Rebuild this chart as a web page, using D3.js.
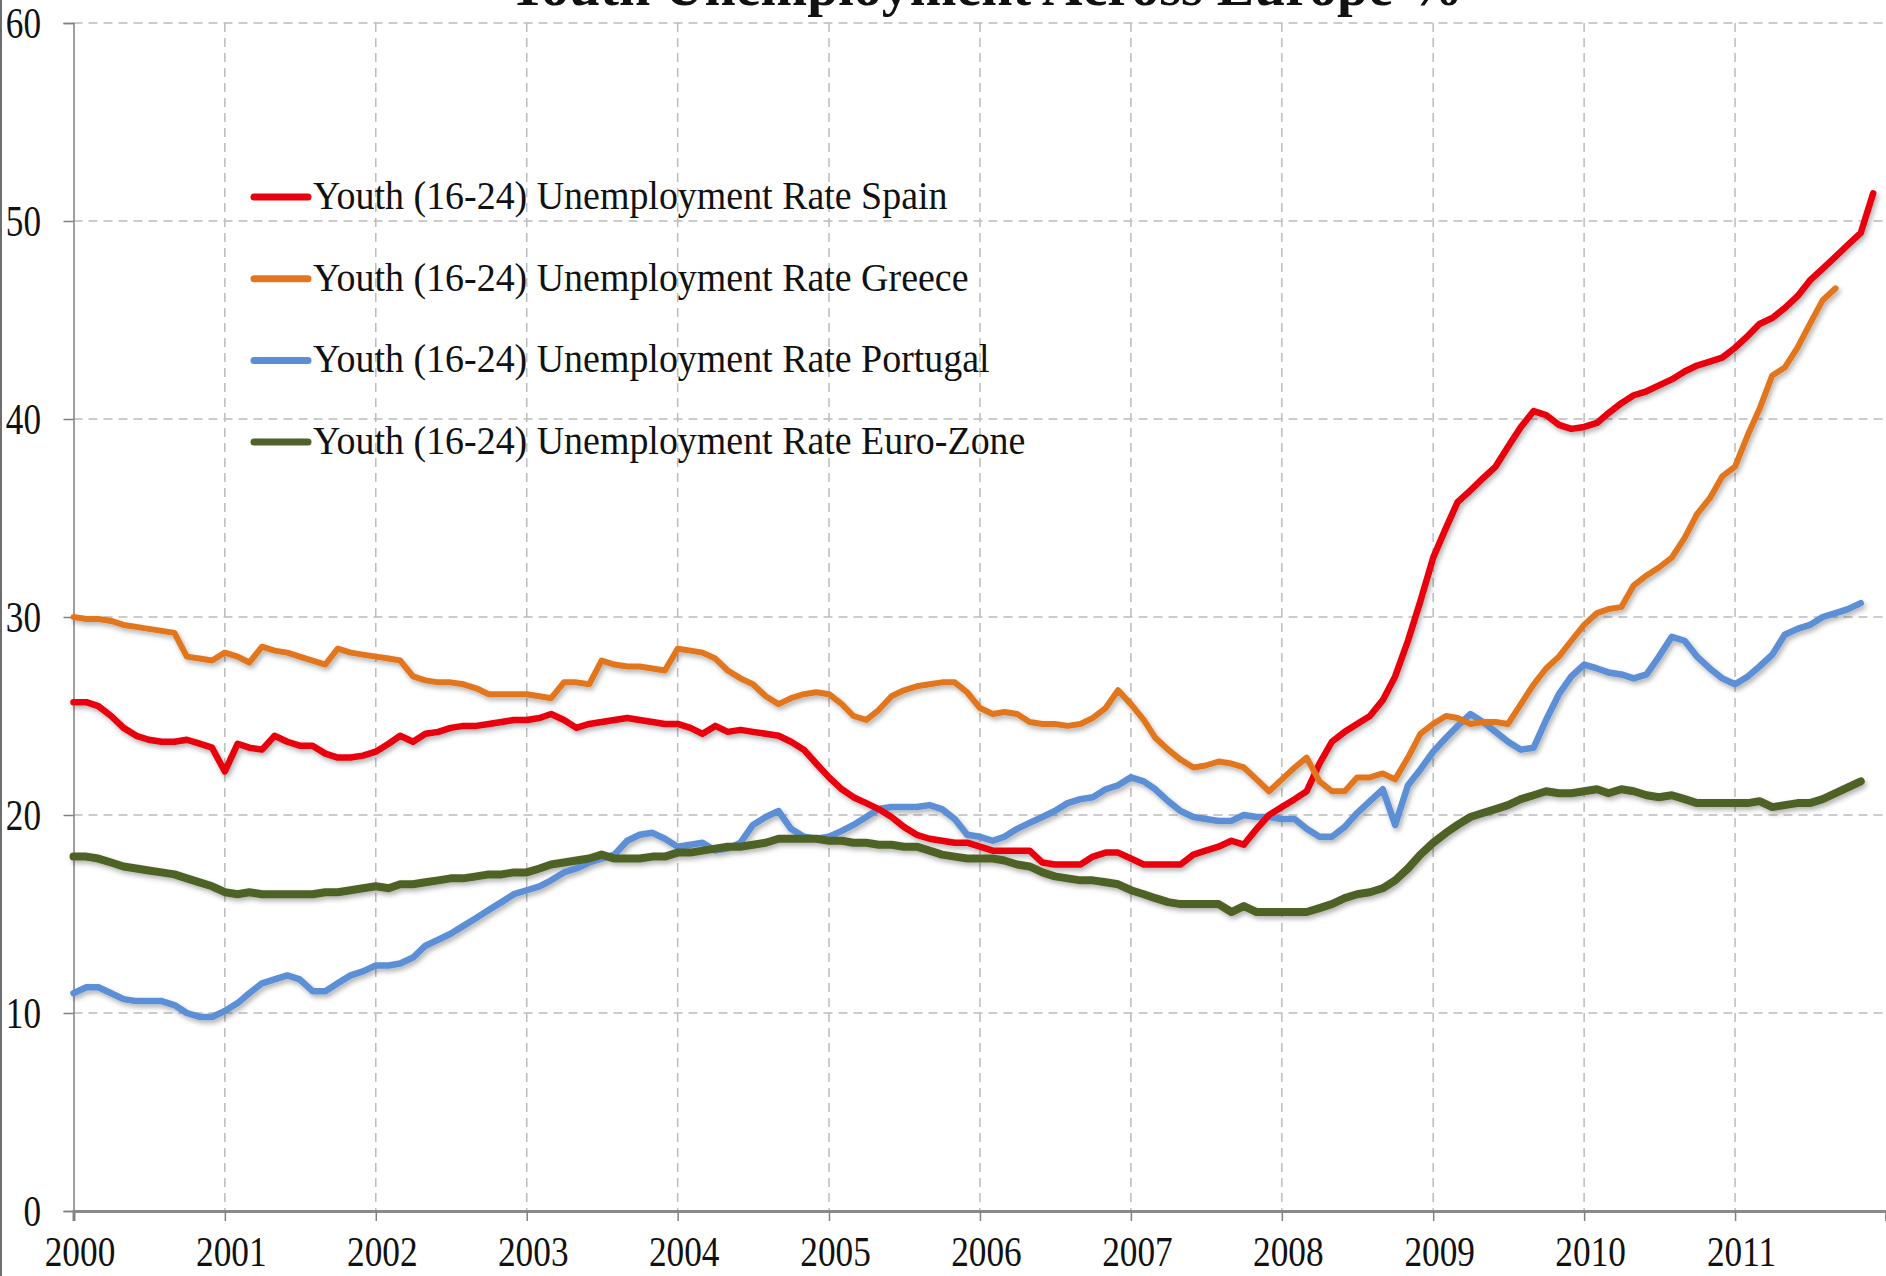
<!DOCTYPE html>
<html>
<head>
<meta charset="utf-8">
<script src="https://cdn.jsdelivr.net/npm/d3@7"></script>
<style>
	body { margin: 0; background: #fff; }
	svg { display: block; }
</style>
</head>
<body>
<svg id="viz" width="1886" height="1276"></svg>
<script>

// monthly values, first value is Jan 2000
let startYear = 2000;
let endYear = 2012;
let yearTicks = d3.range(2000, 2012);
let valueTicks = [0, 10, 20, 30, 40, 50, 60];

let spain = [
	25.7, 25.7, 25.5, 25.0, 24.4, 24.0, 23.8, 23.7, 23.7, 23.8, 23.6, 23.4,
	22.2, 23.6, 23.4, 23.3, 24.0, 23.7, 23.5, 23.5, 23.1, 22.9, 22.9, 23.0,
	23.2, 23.6, 24.0, 23.7, 24.1, 24.2, 24.4, 24.5, 24.5, 24.6, 24.7, 24.8,
	24.8, 24.9, 25.1, 24.8, 24.4, 24.6, 24.7, 24.8, 24.9, 24.8, 24.7, 24.6,
	24.6, 24.4, 24.1, 24.5, 24.2, 24.3, 24.2, 24.1, 24.0, 23.7, 23.3, 22.6,
	21.9, 21.3, 20.9, 20.6, 20.3, 19.9, 19.4, 19.0, 18.8, 18.7, 18.6, 18.6,
	18.4, 18.2, 18.2, 18.2, 18.2, 17.6, 17.5, 17.5, 17.5, 17.9, 18.1, 18.1,
	17.8, 17.5, 17.5, 17.5, 17.5, 18.0, 18.2, 18.4, 18.7, 18.5, 19.3, 20.0,
	20.4, 20.8, 21.2, 22.6, 23.7, 24.2, 24.6, 25.0, 25.8, 27.0, 28.8, 30.8,
	33.0, 34.5, 35.8, 36.4, 37.0, 37.6, 38.6, 39.6, 40.4, 40.2, 39.7, 39.5,
	39.6, 39.8, 40.3, 40.8, 41.2, 41.4, 41.7, 42.0, 42.4, 42.7, 42.9, 43.1,
	43.6, 44.2, 44.8, 45.1, 45.6, 46.2, 47.0, 47.6, 48.2, 48.8, 49.4, 51.4
];

let greece = [
	30.0, 29.9, 29.9, 29.8, 29.6, 29.5, 29.4, 29.3, 29.2, 28.0, 27.9, 27.8,
	28.2, 28.0, 27.7, 28.5, 28.3, 28.2, 28.0, 27.8, 27.6, 28.4, 28.2, 28.1,
	28.0, 27.9, 27.8, 27.0, 26.8, 26.7, 26.7, 26.6, 26.4, 26.1, 26.1, 26.1,
	26.1, 26.0, 25.9, 26.7, 26.7, 26.6, 27.8, 27.6, 27.5, 27.5, 27.4, 27.3,
	28.4, 28.3, 28.2, 27.9, 27.3, 26.9, 26.6, 26.0, 25.6, 25.9, 26.1, 26.2,
	26.1, 25.6, 25.0, 24.8, 25.3, 26.0, 26.3, 26.5, 26.6, 26.7, 26.7, 26.2,
	25.4, 25.1, 25.2, 25.1, 24.7, 24.6, 24.6, 24.5, 24.6, 24.9, 25.4, 26.3,
	25.6, 24.8, 23.9, 23.3, 22.8, 22.4, 22.5, 22.7, 22.6, 22.4, 21.8, 21.2,
	21.8, 22.4, 22.9, 21.7, 21.2, 21.2, 21.9, 21.9, 22.1, 21.8, 22.9, 24.1,
	24.6, 25.0, 24.9, 24.6, 24.7, 24.7, 24.6, 25.6, 26.6, 27.4, 28.0, 28.8,
	29.6, 30.2, 30.4, 30.5, 31.6, 32.1, 32.5, 33.0, 34.0, 35.2, 36.0, 37.1,
	37.6, 39.2, 40.5, 42.2, 42.6, 43.6, 44.8, 46.0, 46.6
];

let portugal = [
	11.0, 11.3, 11.3, 11.0, 10.7, 10.6, 10.6, 10.6, 10.4, 10.0, 9.8, 9.8,
	10.1, 10.5, 11.0, 11.5, 11.7, 11.9, 11.7, 11.1, 11.1, 11.5, 11.9, 12.1,
	12.4, 12.4, 12.5, 12.8, 13.4, 13.7, 14.0, 14.4, 14.8, 15.2, 15.6, 16.0,
	16.2, 16.4, 16.7, 17.1, 17.3, 17.6, 17.8, 18.0, 18.7, 19.0, 19.1, 18.8,
	18.4, 18.5, 18.6, 18.2, 18.3, 18.6, 19.5, 19.9, 20.2, 19.3, 18.9, 18.8,
	18.9, 19.2, 19.5, 19.9, 20.3, 20.4, 20.4, 20.4, 20.5, 20.3, 19.8, 19.0,
	18.9, 18.7, 18.9, 19.3, 19.6, 19.9, 20.2, 20.6, 20.8, 20.9, 21.3, 21.5,
	21.9, 21.7, 21.3, 20.7, 20.2, 19.9, 19.8, 19.7, 19.7, 20.0, 19.9, 19.9,
	19.8, 19.8, 19.3, 18.9, 18.9, 19.4, 20.1, 20.7, 21.3, 19.5, 21.5, 22.3,
	23.2, 23.9, 24.5, 25.1, 24.7, 24.2, 23.7, 23.3, 23.4, 24.8, 26.1, 27.0,
	27.6, 27.4, 27.2, 27.1, 26.9, 27.1, 28.0, 29.0, 28.8, 28.0, 27.4, 26.9,
	26.6, 27.0, 27.5, 28.1, 29.1, 29.4, 29.6, 30.0, 30.2, 30.4, 30.7
];

let euroZone = [
	17.9, 17.9, 17.8, 17.6, 17.4, 17.3, 17.2, 17.1, 17.0, 16.8, 16.6, 16.4,
	16.1, 16.0, 16.1, 16.0, 16.0, 16.0, 16.0, 16.0, 16.1, 16.1, 16.2, 16.3,
	16.4, 16.3, 16.5, 16.5, 16.6, 16.7, 16.8, 16.8, 16.9, 17.0, 17.0, 17.1,
	17.1, 17.3, 17.5, 17.6, 17.7, 17.8, 18.0, 17.8, 17.8, 17.8, 17.9, 17.9,
	18.1, 18.1, 18.2, 18.3, 18.4, 18.4, 18.5, 18.6, 18.8, 18.8, 18.8, 18.8,
	18.7, 18.7, 18.6, 18.6, 18.5, 18.5, 18.4, 18.4, 18.2, 18.0, 17.9, 17.8,
	17.8, 17.8, 17.7, 17.5, 17.4, 17.1, 16.9, 16.8, 16.7, 16.7, 16.6, 16.5,
	16.2, 16.0, 15.8, 15.6, 15.5, 15.5, 15.5, 15.5, 15.1, 15.4, 15.1, 15.1,
	15.1, 15.1, 15.1, 15.3, 15.5, 15.8, 16.0, 16.1, 16.3, 16.7, 17.3, 18.0,
	18.6, 19.1, 19.5, 19.9, 20.1, 20.3, 20.5, 20.8, 21.0, 21.2, 21.1, 21.1,
	21.2, 21.3, 21.1, 21.3, 21.2, 21.0, 20.9, 21.0, 20.8, 20.6, 20.6, 20.6,
	20.6, 20.6, 20.7, 20.4, 20.5, 20.6, 20.6, 20.8, 21.1, 21.4, 21.7
];

let seriesNames = [
	"Youth (16-24) Unemployment Rate Spain",
	"Youth (16-24) Unemployment Rate Greece",
	"Youth (16-24) Unemployment Rate Portugal",
	"Youth (16-24) Unemployment Rate Euro-Zone"
];
let seriesColors = ["#e8000e", "#e2761f", "#5b8fd5", "#4f6228"];
let seriesWidths = [6.5, 6, 6.5, 8];
let seriesData = [spain, greece, portugal, euroZone];
// order the lines are painted in (last one on top)
let drawOrder = [2, 0, 1, 3];

let titleText = "Youth Unemployment Across Europe %";

let width = 1886;
let height = 1276;
let plotLeft = 73.5;
let plotRight = 1886;
let plotTop = 23;
let plotBottom = 1211;
let labelRight = 41; // right edge of the value labels

let serif = "'Liberation Serif', 'DejaVu Serif', serif";

function squeeze(sel, k) {
	// the original uses a narrow Garamond face, so shrink Times a bit
	sel.each(function() {
		let w = this.getComputedTextLength();
		d3.select(this).attr('textLength', w * k).attr('lengthAdjust', 'spacingAndGlyphs');
	});
}

function app() {
	let svg = d3.select('#viz');

	let x = d3.scaleTime()
		.domain([new Date(startYear, 0, 1), new Date(endYear, 0, 1)])
		.range([plotLeft, plotRight]);
	let y = d3.scaleLinear()
		.domain([0, 60])
		.range([plotBottom, plotTop]);

	svg.append('rect')
		.attr('width', width).attr('height', height)
		.attr('fill', '#fff');

	let defs = svg.append('defs');
	defs.append('filter')
		.attr('id', 'shadow')
		.attr('x', '-5%').attr('y', '-10%')
		.attr('width', '110%').attr('height', '130%')
		.append('feDropShadow')
		.attr('dx', 2).attr('dy', 3)
		.attr('stdDeviation', 2.5)
		.attr('flood-color', '#000')
		.attr('flood-opacity', 0.3);

	// frame line on the left edge
	svg.append('line')
		.attr('x1', 1).attr('x2', 1)
		.attr('y1', 0).attr('y2', height)
		.attr('stroke', '#6d6d6d')
		.attr('stroke-width', 2);

	// gridlines
	svg.append('g')
		.selectAll('line')
		.data(valueTicks.filter(d => d > 0))
		.enter()
		.append('line')
		.attr('x1', plotLeft).attr('x2', plotRight)
		.attr('y1', d => y(d)).attr('y2', d => y(d))
		.attr('stroke', '#bcbcbc')
		.attr('stroke-width', 1.5)
		.attr('stroke-dasharray', '9,6');

	svg.append('g')
		.selectAll('line')
		.data(yearTicks.filter(d => d > startYear))
		.enter()
		.append('line')
		.attr('x1', d => x(new Date(d, 0, 1))).attr('x2', d => x(new Date(d, 0, 1)))
		.attr('y1', plotTop).attr('y2', plotBottom)
		.attr('stroke', '#bcbcbc')
		.attr('stroke-width', 1.5)
		.attr('stroke-dasharray', '9,6');

	// axes
	let yAxis = d3.axisLeft(y)
		.tickValues(valueTicks)
		.tickSize(10)
		.tickPadding(22)
		.tickFormat(d3.format('d'));
	let gy = svg.append('g')
		.attr('transform', `translate(${plotLeft},0)`)
		.call(yAxis);
	gy.select('.domain').attr('stroke', '#808080').attr('stroke-width', 1.5);
	gy.selectAll('.tick line').attr('stroke', '#808080').attr('stroke-width', 1.5);
	let yLabels = gy.selectAll('.tick text')
		.attr('font-family', serif)
		.attr('font-size', 44)
		.attr('fill', '#111')
		.attr('text-anchor', 'start')
		.attr('dy', '0.34em');
	squeeze(yLabels, 0.8);
	// right-align the squeezed labels by hand
	yLabels.each(function() {
		let w = +this.getAttribute('textLength');
		d3.select(this).attr('x', labelRight - plotLeft - w);
	});

	let xAxis = d3.axisBottom(x)
		.tickValues(yearTicks.map(d => new Date(d, 0, 1)))
		.tickSize(10)
		.tickPadding(15)
		.tickFormat(d3.timeFormat('%Y'));
	let gx = svg.append('g')
		.attr('transform', `translate(0,${plotBottom})`)
		.call(xAxis);
	gx.select('.domain').attr('stroke', '#8a8a8a').attr('stroke-width', 3);
	gx.selectAll('.tick line').attr('stroke', '#808080').attr('stroke-width', 1.5);
	let xLabels = gx.selectAll('.tick text')
		.attr('font-family', serif)
		.attr('font-size', 42)
		.attr('fill', '#111')
		.attr('x', 6)
		.attr('dy', '0.71em');
	squeeze(xLabels, 0.84);

	// series
	let line = d3.line()
		.x((d, i) => x(new Date(startYear, i, 1)))
		.y(d => y(d));

	svg.append('g')
		.attr('filter', 'url(#shadow)')
		.selectAll('path')
		.data(drawOrder)
		.enter()
		.append('path')
		.attr('d', k => line(seriesData[k]))
		.attr('fill', 'none')
		.attr('stroke', k => seriesColors[k])
		.attr('stroke-width', k => seriesWidths[k])
		.attr('stroke-linejoin', 'round')
		.attr('stroke-linecap', 'round');

	// legend
	let legend = svg.append('g')
		.selectAll('g')
		.data(seriesNames)
		.enter()
		.append('g')
		.attr('transform', (d, i) => `translate(252,${197 + i * 81.7})`);

	legend.append('line')
		.attr('x1', 2).attr('x2', 56)
		.attr('stroke', (d, i) => seriesColors[i])
		.attr('stroke-width', 7)
		.attr('stroke-linecap', 'round');

	let legendText = legend.append('text')
		.attr('x', 61)
		.attr('y', 12)
		.attr('font-family', serif)
		.attr('font-size', 41)
		.attr('fill', '#111')
		.text(d => d);
	squeeze(legendText, 0.925);

	// title, cut off at the top edge as in the original
	svg.append('text')
		.attr('x', 985)
		.attr('y', 5)
		.attr('text-anchor', 'middle')
		.attr('font-family', serif)
		.attr('font-weight', 'bold')
		.attr('font-size', 56)
		.attr('fill', '#111')
		.text(titleText);
}

app();
</script>
</body>
</html>
